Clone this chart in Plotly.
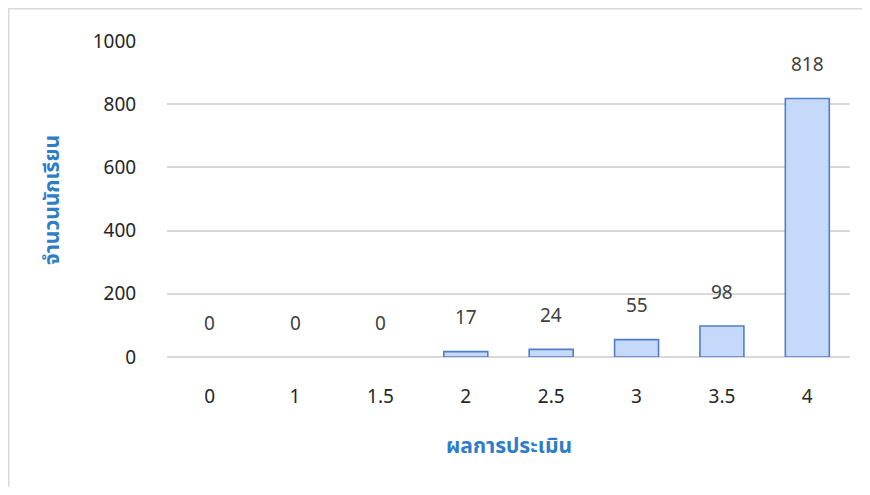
import plotly.graph_objects as go

categories = ["0", "1", "1.5", "2", "2.5", "3", "3.5", "4"]
counts = [0, 0, 0, 17, 24, 55, 98, 818]
y_ticks = [0, 200, 400, 600, 800, 1000]
x_title = "ผลการประเมิน"
y_title = "จำนวนนักเรียน"

FONT = "Leelawadee UI, Noto Sans Thai, Noto Sans, Tahoma, sans-serif"
# page has an 8px body margin; figure sized to fit the window
OFF = 8
W, H = 870 - 2 * OFF, 495 - 2 * OFF
ml, mt = 167 - OFF, 41 - OFF
pw, ph = 683, 316
mr = W - ml - pw
mb = H - mt - ph

border_widths = [0 if v == 0 else 1.6 for v in counts]

fig = go.Figure()
fig.add_trace(go.Bar(
    x=categories, y=counts,
    marker=dict(color="#C6D9FB", line=dict(color="#4F7FC4", width=border_widths)),
    hoverinfo="x+y",
))

annotations = []
for i, v in enumerate(counts):
    annotations.append(dict(
        x=i, y=v, xref="x", yref="y", text=str(v), showarrow=False,
        yshift=33, yanchor="middle",
        font=dict(family=FONT, size=19, color="#404040"),
    ))
annotations.append(dict(
    x=0.5, y=(357 - 446) / ph,
    xref="paper", yref="paper", text="<b>" + x_title + "</b>", showarrow=False,
    xanchor="center", yanchor="middle",
    font=dict(family=FONT, size=21, color="#2E7DC8"),
))
annotations.append(dict(
    x=(52 - 167) / pw, y=(357 - 200) / ph,
    xref="paper", yref="paper", text="<b>" + y_title + "</b>", showarrow=False,
    textangle=-90, xanchor="center", yanchor="middle",
    font=dict(family=FONT, size=21, color="#2E7DC8"),
))

fig.update_layout(
    width=W, height=H,
    margin=dict(l=ml, r=mr, t=mt, b=mb),
    paper_bgcolor="white", plot_bgcolor="white",
    bargap=0.485,
    showlegend=False,
    annotations=annotations,
    shapes=[dict(
        type="rect", xref="paper", yref="paper",
        x0=(0.75 - ml) / pw, x1=1.2, y0=-0.6, y1=(ph + mt - 0.75) / ph,
        line=dict(color="#D9D9D9", width=1.5), layer="below",
    )],
    xaxis=dict(
        type="category", showgrid=False, showline=False, zeroline=False,
        ticks="outside", ticklen=22, tickcolor="rgba(0,0,0,0)",
        tickfont=dict(family=FONT, size=19, color="#262626"),
    ),
    yaxis=dict(
        range=[0, 1000], tickvals=y_ticks,
        showgrid=True, gridcolor="#D9D9D9", gridwidth=1.5,
        zeroline=True, zerolinecolor="#D9D9D9", zerolinewidth=1.5,
        showline=False,
        ticks="outside", ticklen=26, tickcolor="rgba(0,0,0,0)",
        tickfont=dict(family=FONT, size=19, color="#262626"),
    ),
)

fig.write_html("out.html")
